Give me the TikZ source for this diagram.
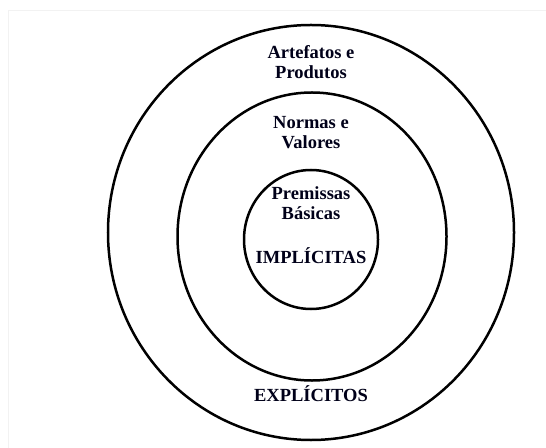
\documentclass[tikz,border=0pt]{standalone}
\usepackage{fontspec}
\setmainfont{Liberation Serif}
\usetikzlibrary{shapes.geometric}
\begin{document}
\begin{tikzpicture}[x=1bp,y=-1bp,
  ring/.style={draw=black, line width=2.5bp, ellipse, inner sep=0pt},
  lbl/.style={font=\fontsize{18.5bp}{20.5bp}\selectfont\bfseries, align=center, inner sep=0pt, text=black!90!blue}]
\useasboundingbox (0,0) rectangle (546,448);
\fill[white] (0,0) rectangle (546,448);
\draw[black!5, line width=0.8bp] (8,448) -- (8,10) -- (546,10);
\node[ring, minimum width=406bp, minimum height=415bp] (outer) at (311,232.5) {};
\node[ring, minimum width=269bp, minimum height=288bp] (middle) at (312,236.5) {};
\node[ring, minimum width=134bp, minimum height=139bp] (inner) at (311,239.5) {};
\node[lbl] (art) at (311,62) {Artefatos e\\Produtos};
\node[lbl] (nor) at (311,132.5) {Normas e\\Valores};
\node[lbl] (pre) at (311,203) {Premissas\\Básicas};
\node[lbl] (imp) at (311,256) {IMPLÍCITAS};
\node[lbl] (exp) at (311,394) {EXPLÍCITOS};
\end{tikzpicture}
\end{document}
